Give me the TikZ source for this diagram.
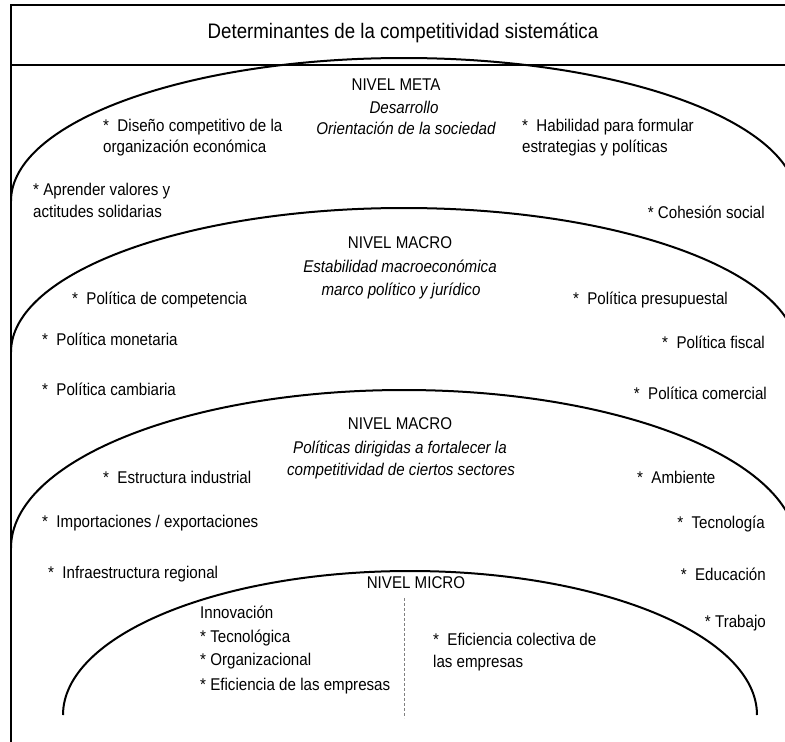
\documentclass[tikz,border=0pt]{standalone}
\usepackage{fontspec}
\setmainfont{Liberation Sans}[FakeStretch=0.89]
\begin{document}
\begin{tikzpicture}[x=1pt,y=-1pt,
  txt/.style={inner sep=0pt, font=\fontsize{17}{21}\selectfont},
  L/.style={txt, anchor=base west},
  R/.style={txt, anchor=base east},
  C/.style={txt, anchor=base},
  I/.style={C, font=\fontsize{17}{21}\selectfont\itshape},
  ring/.style={line width=2pt},
  framel/.style={line width=1.1pt},
  divider/.style={line width=0.8pt, gray, dash pattern=on 3pt off 2pt}]
\useasboundingbox (0,0) rectangle (785,742);
\begin{scope}
\clip (0,0) rectangle (785,742);
% frame
\coordinate (f1) at (785,5);
\coordinate (f2) at (11,5);
\coordinate (f3) at (11,742);
\coordinate (h1) at (11,65);
\coordinate (h2) at (785,65);
\draw[framel] (f1) -- (f2) -- (f3);
\draw[framel] (h1) -- (h2);
% arcs
\coordinate (a1) at (11,201);
\coordinate (a2) at (11,352);
\coordinate (a3) at (11,548);
\coordinate (a4) at (63,715);
\draw[ring] (a1) arc[start angle=180, end angle=0, x radius=393pt, y radius=143pt];
\draw[ring] (a2) arc[start angle=180, end angle=0, x radius=393pt, y radius=144pt];
\draw[ring] (a3) arc[start angle=180, end angle=0, x radius=393pt, y radius=158pt];
\draw[ring] (a4) arc[start angle=180, end angle=0, x radius=347pt, y radius=144pt];
% divider
\coordinate (d1) at (404,598);
\coordinate (d2) at (404,718);
\draw[divider] (d1) -- (d2);
\end{scope}
% title
\node[C, font=\fontsize{21}{25}\selectfont] (title) at (403,38) {Determinantes de la competitividad sistemática};
% meta
\node[C] (nmeta) at (396,90) {NIVEL META};
\node[I] (desa) at (404,113) {Desarrollo};
\node[I] (orient) at (406,134) {Orientación de la sociedad};
\node[L] (dis1) at (103,131) {*\ \ Diseño competitivo de la};
\node[L] (dis2) at (103,152) {organización económica};
\node[L] (hab1) at (522,131) {*\ \ Habilidad para formular};
\node[L] (hab2) at (522,152) {estrategias y políticas};
\node[L] (apr1) at (33,195) {* Aprender valores y};
\node[L] (apr2) at (33,217) {actitudes solidarias};
\node[R] (coh) at (765,218) {* Cohesión social};
% macro
\node[C] (nmac) at (400,248) {NIVEL MACRO};
\node[I] (estab) at (400,272) {Estabilidad macroeconómica};
\node[I] (marco) at (401,295) {marco político y jurídico};
\node[L] (pcomp) at (72,304) {*\ \ Política de competencia};
\node[R] (ppres) at (728,304) {*\ \ Política presupuestal};
\node[L] (pmon) at (42,345) {*\ \ Política monetaria};
\node[R] (pfis) at (765,348) {*\ \ Política fiscal};
\node[L] (pcam) at (42,395) {*\ \ Política cambiaria};
\node[R] (pcom) at (767,399) {*\ \ Política comercial};
% meso
\node[C] (nmac2) at (400,429) {NIVEL MACRO};
\node[I] (polit) at (400,453) {Políticas dirigidas a fortalecer la};
\node[I] (compet) at (401,475) {competitividad de ciertos sectores};
\node[L] (estr) at (103,483) {*\ \ Estructura industrial};
\node[L] (amb) at (637,483) {*\ \ Ambiente};
\node[L] (imp) at (42,527) {*\ \ Importaciones / exportaciones};
\node[R] (tecn) at (765,528) {*\ \ Tecnología};
\node[L] (infra) at (48,578) {*\ \ Infraestructura regional};
\node[R] (educ) at (766,580) {*\ \ Educación};
% micro
\node[C] (nmic) at (416,588) {NIVEL MICRO};
\node[L] (innov) at (200,618) {Innovación};
\node[R] (trab) at (766,627) {* Trabajo};
\node[L] (tecg) at (200,642) {* Tecnológica};
\node[L] (efcol1) at (433,645) {*\ \ Eficiencia colectiva de};
\node[L] (org) at (200,665) {* Organizacional};
\node[L] (efcol2) at (433,667) {las empresas};
\node[L] (efemp) at (200,690) {* Eficiencia de las empresas};
\end{tikzpicture}
\end{document}
